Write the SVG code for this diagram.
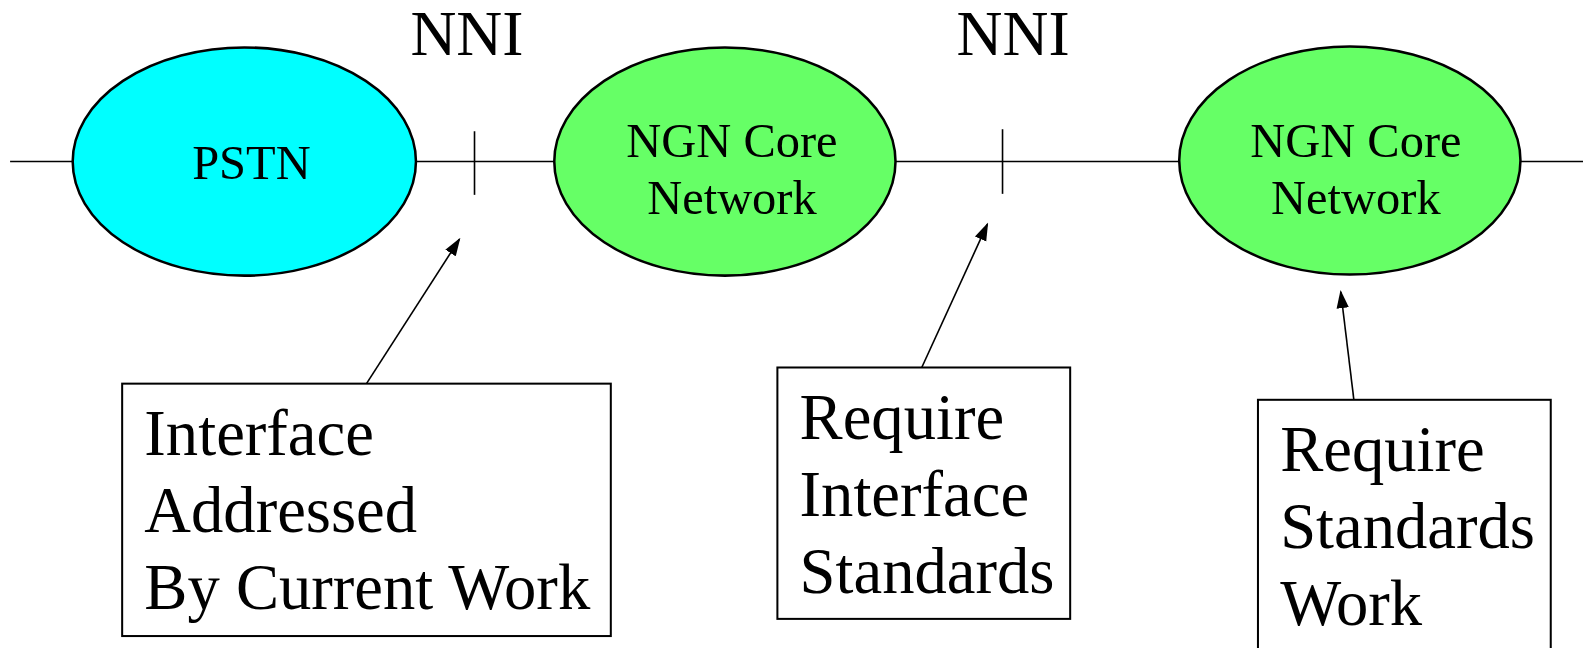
<svg xmlns="http://www.w3.org/2000/svg" width="1583" height="648" viewBox="0 0 1583 648">
<style>
text{font-family:"Liberation Serif","Times New Roman",serif;fill:#000}
.ell{stroke:#000;stroke-width:2.5}
.lbl{font-size:48px;text-anchor:middle}
.nni{font-size:63px;text-anchor:middle}
.box{fill:#fff;stroke:#000;stroke-width:2}
.bt{font-size:64px}
.ln{stroke:#000;stroke-width:1.6;fill:none}
</style>
<defs>
<marker id="ah" viewBox="0 0 10 10" refX="9" refY="5" markerWidth="18" markerHeight="18" markerUnits="userSpaceOnUse" orient="auto">
<path d="M0,1.6 L10,5 L0,8.4 z" fill="#000"/>
</marker>
</defs>
<rect width="1583" height="648" fill="#fff"/>
<g transform="scale(1.0096)">
<g id="connectors">
<line class="ln" x1="10" y1="160" x2="72" y2="160"/>
<line class="ln" x1="411" y1="160" x2="549" y2="160"/>
<line class="ln" x1="887" y1="160" x2="1168" y2="160"/>
<line class="ln" x1="1506" y1="160" x2="1568" y2="160"/>
<line class="ln" x1="470" y1="130" x2="470" y2="193"/>
<line class="ln" x1="993" y1="128" x2="993" y2="192"/>
<line class="ln" x1="363" y1="380" x2="455" y2="237" marker-end="url(#ah)"/>
<line class="ln" x1="913" y1="364" x2="978" y2="222" marker-end="url(#ah)"/>
<line class="ln" x1="1341" y1="396" x2="1328" y2="289" marker-end="url(#ah)"/>
</g>
<g id="nni1"><text class="nni" x="462.5" y="54.5">NNI</text></g>
<g id="nni2"><text class="nni" x="1003.5" y="54.5">NNI</text></g>
<g id="pstn">
<ellipse class="ell" cx="242" cy="160" rx="170" ry="113" fill="#00FFFF"/>
<text class="lbl" x="249" y="177">PSTN</text>
</g>
<g id="ngn1">
<ellipse class="ell" cx="718" cy="160" rx="169" ry="113" fill="#66FF66"/>
<text class="lbl" x="725" y="156">NGN Core</text>
<text class="lbl" x="725" y="212">Network</text>
</g>
<g id="ngn2">
<ellipse class="ell" cx="1337" cy="159" rx="169" ry="113" fill="#66FF66"/>
<text class="lbl" x="1343" y="156">NGN Core</text>
<text class="lbl" x="1343" y="212">Network</text>
</g>
<g id="box1">
<rect class="box" x="121" y="380" width="484" height="250"/>
<text class="bt" x="143" y="451">Interface</text>
<text class="bt" x="143" y="527">Addressed</text>
<text class="bt" x="143" y="603">By Current Work</text>
</g>
<g id="box2">
<rect class="box" x="770" y="364" width="290" height="249"/>
<text class="bt" x="792" y="435">Require</text>
<text class="bt" x="792" y="511">Interface</text>
<text class="bt" x="792" y="587">Standards</text>
</g>
<g id="box3">
<rect class="box" x="1246" y="396" width="290" height="260"/>
<text class="bt" x="1268" y="467">Require</text>
<text class="bt" x="1268" y="543">Standards</text>
<text class="bt" x="1268" y="619">Work</text>
</g>
</g>
</svg>
